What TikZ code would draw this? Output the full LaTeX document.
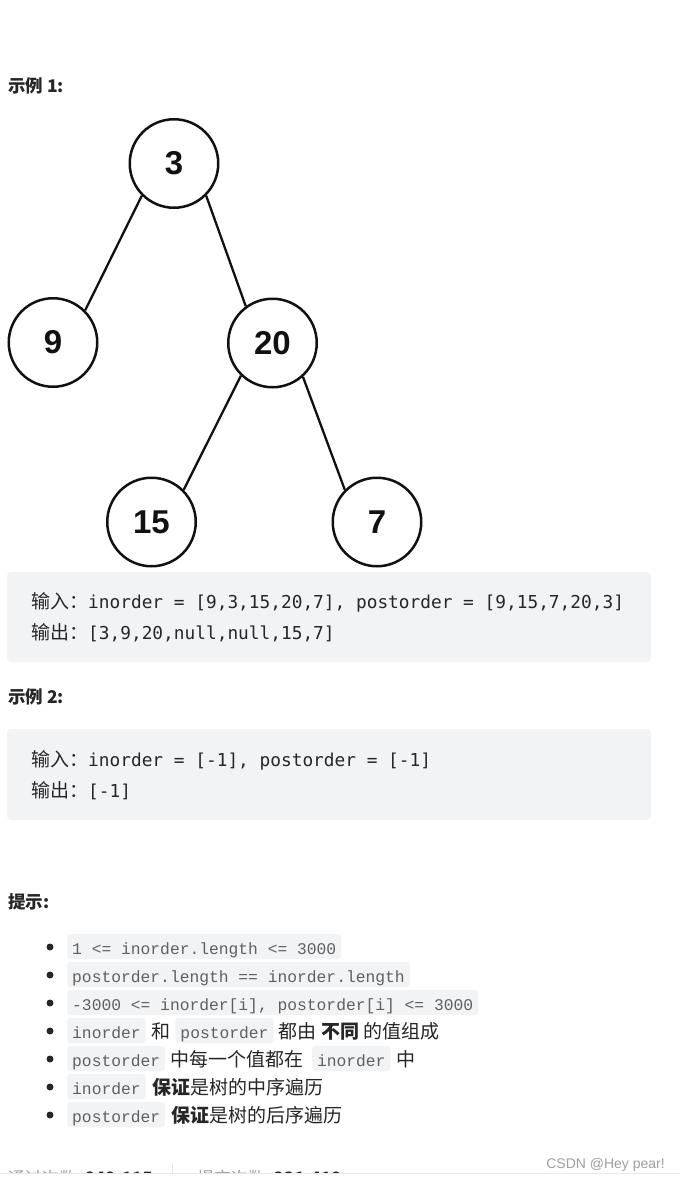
\documentclass[tikz,border=0pt]{standalone}
\usepackage{fontspec}
\usepackage{xcolor}
\usetikzlibrary{positioning}
\setmainfont{Liberation Sans}
\newfontfamily\cjk{Noto Sans CJK SC}
\newfontfamily\codemono{DejaVu Sans Mono}
\newfontfamily\inlinemono{Liberation Mono}
\definecolor{pageInk}{RGB}{38,38,38}
\definecolor{treeInk}{RGB}{17,17,17}
\definecolor{codeBg}{RGB}{242,243,245}
\definecolor{codeInk}{RGB}{96,96,96}
\definecolor{footGray}{RGB}{160,160,160}
\definecolor{ruleGray}{RGB}{232,232,232}

\begin{document}
\begin{tikzpicture}[x=1pt,y=-1pt,
  treenode/.style={circle,draw=treeInk,line width=2.5pt,minimum size=88.5pt,inner sep=0pt,text=treeInk,font=\fontsize{33}{33}\selectfont\bfseries},
  treeedge/.style={draw=treeInk,line width=2.3pt},
  heading/.style={anchor=base west,inner sep=0pt,text=pageInk,font=\cjk\fontsize{17.5}{17.5}\selectfont\bfseries},
  codebox/.style={fill=codeBg,rounded corners=4pt},
  codeline/.style={anchor=base west,inner sep=0pt,text=pageInk,font=\codemono\fontsize{17.8}{17.8}\selectfont},
  inlinecode/.style={anchor=base west,fill=codeBg,rounded corners=3pt,inner xsep=5pt,inner ysep=0pt,text height=20pt,text depth=5pt,text=codeInk,font=\inlinemono\fontsize{16.3}{16.3}\selectfont},
  bodytext/.style={anchor=base west,inner sep=0pt,text=pageInk,font=\cjk\fontsize{19}{19}\selectfont},
  footstat/.style={anchor=base west,inner sep=0pt,font=\cjk\fontsize{17}{17}\selectfont}]
\useasboundingbox[fill=white] (0,0) rectangle (680,1181);

\node[heading] (ex1) at (8,92) {示例 1:};

\node[treenode] (n3) at (174,163.5) {3};
\node[treenode] (n9) at (53,342.5) {9};
\node[treenode] (n20) at (272.5,343) {20};
\node[treenode] (n15) at (151.5,522) {15};
\node[treenode] (n7) at (377,522) {7};
\draw[treeedge] (n3.225) -- (n9.45);
\draw[treeedge] (n3.-45) -- (n20.126);
\draw[treeedge] (n20.226) -- (n15.45);
\draw[treeedge] (n20.-48) -- (n7.135);

\fill[codebox] (7,572) rectangle (651,662);
\node[codeline] (in1) at (31,608) {{\cjk\fontsize{19}{19}\selectfont 输入：}inorder = [9,3,15,20,7], postorder = [9,15,7,20,3]};
\node[codeline] (out1) at (31,639) {{\cjk\fontsize{19}{19}\selectfont 输出：}[3,9,20,null,null,15,7]};

\node[heading] (ex2) at (8,703) {示例 2:};
\fill[codebox] (7,729) rectangle (651,820);
\node[codeline] (in2) at (31,766) {{\cjk\fontsize{19}{19}\selectfont 输入：}inorder = [-1], postorder = [-1]};
\node[codeline] (out2) at (31,797) {{\cjk\fontsize{19}{19}\selectfont 输出：}[-1]};

\node[heading] (hint) at (8,908) {提示:};
\foreach \y in {947,975,1003,1031,1059,1087,1115}
  \fill[pageInk] (50,\y) circle (3.5pt);

\node[inlinecode] (c1) at (67,954) {1 <= inorder.length <= 3000};
\node[inlinecode] (c2) at (67,982) {postorder.length == inorder.length};
\node[inlinecode] (c3) at (67,1010) {-3000 <= inorder[i], postorder[i] <= 3000};
\node[inlinecode] (c4a) at (67,1038) {inorder};
\node[bodytext,base right=5pt of c4a] (t4a) {和};
\node[inlinecode,base right=5pt of t4a] (c4b) {postorder};
\node[bodytext,base right=5pt of c4b] (t4b) {都由 \textbf{不同} 的值组成};
\node[inlinecode] (c5a) at (67,1066) {postorder};
\node[bodytext,base right=5pt of c5a] (t5a) {中每一个值都在};
\node[inlinecode,base right=8pt of t5a] (c5b) {inorder};
\node[bodytext,base right=6pt of c5b] (t5b) {中};
\node[inlinecode] (c6) at (67,1094) {inorder};
\node[bodytext,base right=6pt of c6] (t6) {\textbf{保证}是树的中序遍历};
\node[inlinecode] (c7) at (67,1122) {postorder};
\node[bodytext,base right=6pt of c7] (t7) {\textbf{保证}是树的后序遍历};

\node[anchor=base east,inner sep=0pt,text=footGray,font=\fontsize{14}{14}\selectfont] (mark) at (665,1168) {CSDN @Hey pear!};
\begin{scope}
  \clip (0,1150) rectangle (680,1173);
  \node[footstat,text=footGray] (passLbl) at (8,1184) {通过次数};
  \node[footstat,text=pageInk,font=\cjk\fontsize{17}{17}\selectfont\bfseries,base right=8pt of passLbl] (passNum) {849,115};
  \node[footstat,text=footGray] (subLbl) at (197,1184) {提交次数};
  \node[footstat,text=pageInk,font=\cjk\fontsize{17}{17}\selectfont\bfseries,base right=8pt of subLbl] (subNum) {231,419};
\end{scope}
\draw[ruleGray,line width=1pt] (172,1164) -- (172,1173);
\draw[ruleGray,line width=1pt] (0,1173.5) -- (680,1173.5);
\end{tikzpicture}
\end{document}
